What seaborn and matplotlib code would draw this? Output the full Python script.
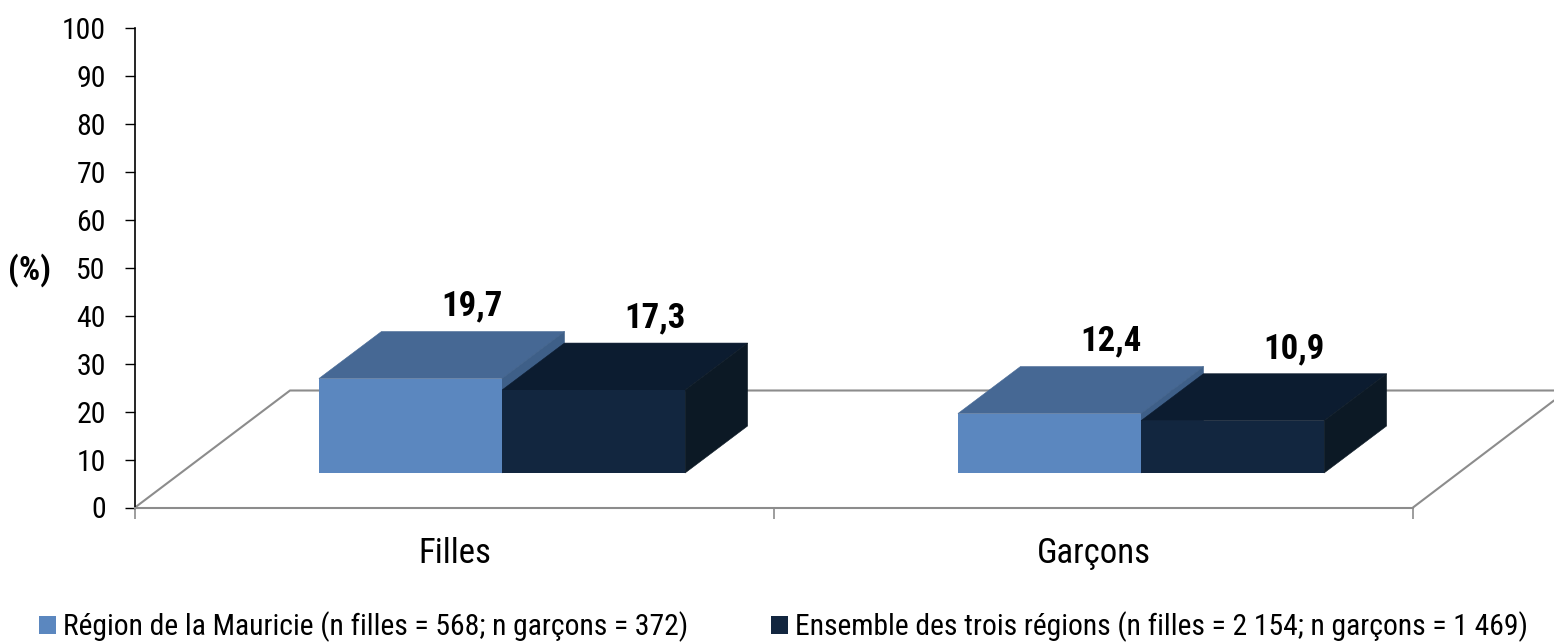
import pandas as pd
import seaborn as sns
from matplotlib import pyplot as plt
from matplotlib.patches import Polygon

categories = ["Filles", "Garçons"]
series_names = ["Région de la Mauricie (n filles = 568; n garçons = 372)",
                "Ensemble des trois régions (n filles = 2 154; n garçons = 1 469)"]
mauricie = [19.7, 12.4]
ensemble = [17.3, 10.9]
y_ticks = list(range(0, 101, 10))

front_colors = ["#5B87BF", "#12263F"]
top_colors = ["#466894", "#0C1C30"]
side_colors = ["#3E5F88", "#0C1925"]

W, H = 1554, 644

sns.set_theme(style="white")
plt.rcParams["font.family"] = ["Roboto Condensed", "DejaVu Sans"]
plt.rcParams["text.color"] = "black"
plt.rcParams["axes.labelcolor"] = "black"
plt.rcParams["ytick.color"] = "black"
plt.rcParams["xtick.color"] = "black"

df = pd.DataFrame({
    "sexe": categories * 2,
    "region": [series_names[0]] * 2 + [series_names[1]] * 2,
    "pct": mauricie + ensemble,
})

fig = plt.figure(figsize=(W / 100, H / 100), dpi=100)

# axes in pixels: x 135-1413, y 28-507.5
left, right, top, bottom = 135, 1413, 28, 507.5
ax = fig.add_axes([left / W, 1 - bottom / H, (right - left) / W, (bottom - top) / H])
ax.set_xlim(-0.5, 1.5)
ax.set_ylim(0, 100)

# per-pixel data units, used for the fake 3D
px_x = 2 / (right - left)
px_y = 100 / (bottom - top)

# ---- Floor and axes ----------------------------------------------------------
floor_color = "#8C8C8C"
ax.plot([-0.5, -0.5 + 155 * px_x, -0.5 + (W - left) * px_x], [0, 117 * px_y, 117 * px_y],
        color=floor_color, lw=1.5, clip_on=False, zorder=1)
ax.plot([1.5, 1.5 + 141 * px_x], [0, 107 * px_y], color=floor_color, lw=1.5, clip_on=False, zorder=1)

for name in ["top", "right"]:
    ax.spines[name].set_visible(False)
ax.spines["left"].set_color("black")
ax.spines["left"].set_linewidth(1.2)
ax.spines["bottom"].set_color(floor_color)
ax.spines["bottom"].set_linewidth(1.5)

ax.set_yticks(y_ticks)
ax.tick_params(axis="y", length=7, width=1, color="black", labelsize=21.5, pad=14, left=True)
ax.set_xticks([0, 1])
ax.set_xticklabels(categories)
ax.set_xticks([-0.5, 0.5, 1.5], minor=True)
ax.tick_params(axis="x", which="major", length=0, labelsize=25, pad=21)
ax.tick_params(axis="x", which="minor", length=8, width=1.2, color=floor_color, bottom=True)
ax.set_ylabel("(%)", rotation=0, fontsize=24, fontweight="bold", va="center", ha="center")
ax.yaxis.set_label_coords((30 - left) / (right - left), (bottom - 270) / (bottom - top))

# ---- Bars (overlay axes shifted to sit on the floor) --------------------------
shift_x, shift_y = 47.5, 34.5
bar_ax = fig.add_axes([(left + shift_x) / W, 1 - (bottom - shift_y) / H,
                       (right - left) / W, (bottom - top) / H])
bar_ax.patch.set_visible(False)
sns.barplot(data=df, x="sexe", y="pct", hue="region", order=categories, hue_order=series_names,
            palette=front_colors, width=0.573, gap=0, saturation=1, linewidth=0, ax=bar_ax, zorder=3)
bar_ax.set_xlim(-0.5, 1.5)
bar_ax.set_ylim(0, 100)
bar_ax.axis("off")

dx, dy = 62.5 * px_x, 47 * px_y
for i, container in enumerate(bar_ax.containers):
    for patch in container:
        x0, x1 = patch.get_x(), patch.get_x() + patch.get_width()
        h = patch.get_height()
        top_face = [(x0, h), (x1, h), (x1 + dx, h + dy), (x0 + dx, h + dy)]
        side_face = [(x1, 0), (x1 + dx, dy), (x1 + dx, h + dy), (x1, h)]
        bar_ax.add_patch(Polygon(top_face, fc=top_colors[i], ec=top_colors[i], lw=0.4, clip_on=False, zorder=2 + i / 10))
        bar_ax.add_patch(Polygon(side_face, fc=side_colors[i], ec=side_colors[i], lw=0.4, clip_on=False, zorder=2 + i / 10))
        bar_ax.annotate(f"{h:.1f}".replace(".", ","), xy=((x0 + x1) / 2, h), xytext=(44, 52),
                        textcoords="offset points", ha="center", va="center",
                        fontsize=25, fontweight="bold", annotation_clip=False)

# ---- Legend --------------------------------------------------------------------
sns.move_legend(bar_ax, loc="lower left", bbox_to_anchor=(39 / W, 1 - 642 / H), bbox_transform=fig.transFigure,
                ncol=2, frameon=False, title=None, fontsize=21.3, handlelength=0.574, handleheight=0.574,
                handletextpad=0.24, columnspacing=2.8, borderaxespad=0, borderpad=0)
bar_ax.get_legend().set_visible(True)

fig.savefig("out.png", dpi=100)
